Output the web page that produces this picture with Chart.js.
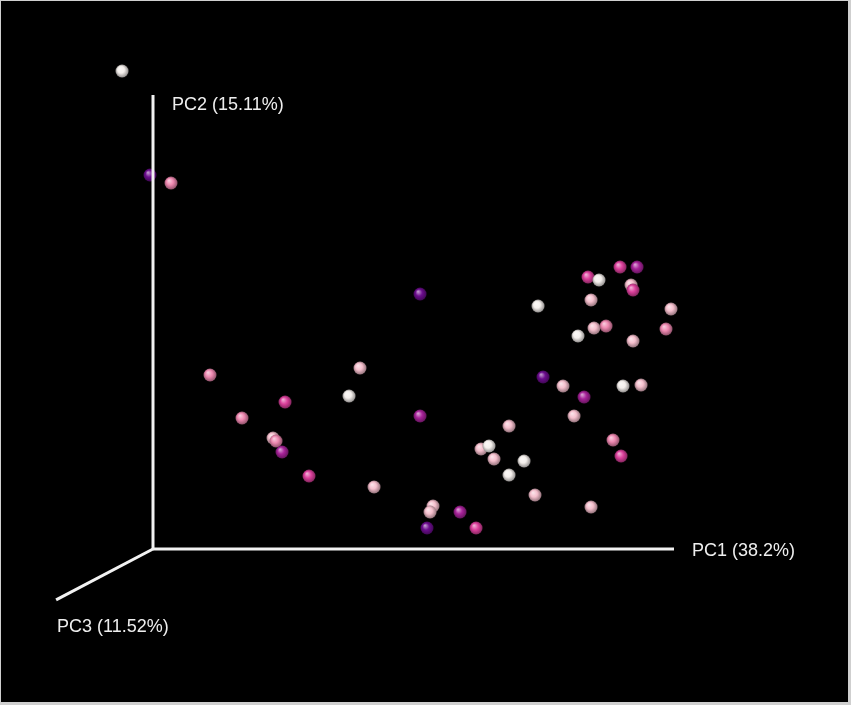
<!DOCTYPE html>
<html>
<head>
<meta charset="utf-8">
<script src="https://cdn.jsdelivr.net/npm/chart.js@4/dist/chart.umd.min.js"></script>
<style>
html,body{margin:0;padding:0;background:#000;}
canvas{display:block;}
</style>
</head>
<body>
<canvas id="c" width="851" height="705"></canvas>
<script>
// Projected PCoA coordinates (screen-plane projection, units of axis length)
const pc1 = [-0.0595,-0.0058,0.0345,0.5125,0.1094,0.3973,0.3762,0.2534,0.1708,0.5125,
  0.2303,0.2361,0.2476,0.2994,0.4242,0.5374,0.5317,0.5259,0.8964,0.9290,
  0.8349,0.8560,0.9175,0.9213,0.7390,0.8407,0.9942,0.8464,0.8695,0.8157,
  0.9846,0.9213,0.7486,0.7869,0.8273,0.9021,0.9367,0.8081,0.6833,0.8829,
  0.8983,0.6296,0.6449,0.6545,0.7121,0.6833,0.7332,0.8407,0.5893,0.6200];
const pc2 = [1.0529,0.8238,0.8062,0.5617,0.3833,0.3987,0.3370,0.3238,0.2885,0.2930,
  0.2445,0.2379,0.2137,0.1608,0.1366,0.0947,0.0815,0.0463,0.6211,0.6211,
  0.5991,0.5925,0.5815,0.5705,0.5352,0.5485,0.5286,0.4868,0.4912,0.4692,
  0.4846,0.4581,0.3789,0.3590,0.3348,0.3590,0.3612,0.2930,0.2709,0.2401,
  0.2048,0.2203,0.2269,0.1982,0.1938,0.1630,0.1189,0.0925,0.0815,0.0463];
const group = ['W','D','P','D','P','L','W','H','P','M',
  'L','P','M','H','L','L','L','D','H','M',
  'H','W','L','H','W','L','L','L','P','W',
  'P','L','D','L','M','W','L','L','L','P',
  'H','L','W','L','W','W','L','L','M','H'];
const groupColors = {W:'#f4efec', L:'#f5bfcd', P:'#ee88b0', H:'#dc409c', M:'#a8229a', D:'#6c0c8e'};
const axisLabels = ['PC1 (38.2%)','PC2 (15.11%)','PC3 (11.52%)'];
const axisEnds = {origin:[0,0], pc1:[1,0], pc2:[0,1], pc3:[-0.186,-0.112]};

function shade(hex, f){
  const n=parseInt(hex.slice(1),16);
  let r=(n>>16)&255,g=(n>>8)&255,b=n&255;
  if(f>0){r+= (255-r)*f; g+=(255-g)*f; b+=(255-b)*f;}
  else {r*=1+f; g*=1+f; b*=1+f;}
  return 'rgb('+Math.round(r)+','+Math.round(g)+','+Math.round(b)+')';
}
function sphere(hex){
  const s=14, cv=document.createElement('canvas'); cv.width=s; cv.height=s;
  const c=cv.getContext('2d');
  const g=c.createRadialGradient(5,4.5,0.5,7,7,7);
  g.addColorStop(0,shade(hex,0.55));
  g.addColorStop(0.45,hex);
  g.addColorStop(1,shade(hex,-0.45));
  c.fillStyle=g; c.beginPath(); c.arc(7,7,6.5,0,Math.PI*2); c.fill();
  return cv;
}
const sprites={}; Object.keys(groupColors).forEach(k=>sprites[k]=sphere(groupColors[k]));

const pts = pc1.map((x,i)=>({x:x,y:pc2[i]}));
const axisLine = (a)=>({type:'line',data:[{x:axisEnds.origin[0],y:axisEnds.origin[1]},{x:axisEnds[a][0],y:axisEnds[a][1]}],
  borderColor:'#f2f2f2',borderWidth:3,pointRadius:0,showLine:true,borderCapStyle:'butt'});

const bgPlugin={id:'bg',beforeDraw(ch){const c=ch.ctx;c.save();c.fillStyle='#cfcfcf';c.fillRect(0,0,ch.width,ch.height);
  c.fillStyle='#000';c.fillRect(1,1,ch.width-4,ch.height-4);c.restore();},
  afterDraw(ch){const c=ch.ctx,xs=ch.scales.x,ys=ch.scales.y;c.save();
    c.font='18px "Liberation Sans", Arial, sans-serif';c.fillStyle='#eeeeee';c.textBaseline='middle';c.textAlign='left';
    const P=(k)=>[xs.getPixelForValue(axisEnds[k][0]),ys.getPixelForValue(axisEnds[k][1])];
    let p=P('pc1');c.fillText(axisLabels[0],p[0]+18,p[1]+2);
    p=P('pc2');c.fillText(axisLabels[1],p[0]+19,p[1]+10);
    p=P('pc3');c.fillText(axisLabels[2],p[0]+1,p[1]+27);
    c.restore();}};

new Chart(document.getElementById('c'),{
  type:'scatter',
  data:{datasets:[axisLine('pc1'),axisLine('pc2'),axisLine('pc3'),
    {data:pts,pointStyle:(ctx)=>sprites[group[ctx.dataIndex]],pointRadius:6.5,
     backgroundColor:(ctx)=>groupColors[group[ctx.dataIndex]]}]},
  options:{responsive:false,animation:false,events:[],
    layout:{padding:0,autoPadding:false},
    plugins:{legend:{display:false},tooltip:{enabled:false}},
    scales:{x:{type:'linear',display:false,min:-0.29367,max:1.33973},
            y:{type:'linear',display:false,min:-0.3436,max:1.2093}}},
  plugins:[bgPlugin]
});
</script>
</body>
</html>
